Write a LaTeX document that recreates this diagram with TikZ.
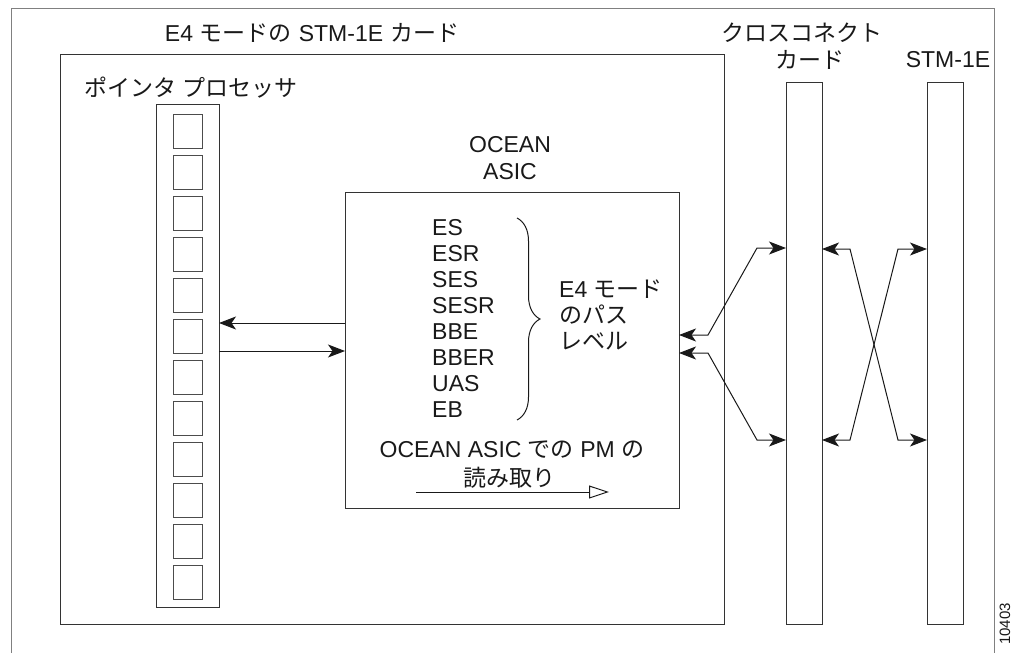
\documentclass[tikz,border=0pt]{standalone}
\usepackage{fontspec}
\setmainfont{Liberation Sans}
\newfontfamily\jp{Noto Sans CJK JP}
\usetikzlibrary{arrows.meta,decorations.pathreplacing}

\begin{document}
\begin{tikzpicture}[x=1pt, y=-1pt,
      >={Stealth[length=17pt,width=13pt,inset=4.5pt]},   % filled tips
      font=\fontsize{23}{26}\selectfont,
      frame/.style={draw=black!50, line width=1pt},
      card/.style={draw=black!80, line width=1pt, inner sep=0pt, outer sep=0pt},
      slot/.style={draw=black!70, line width=1pt, minimum width=29pt, minimum height=34pt, inner sep=0pt, outer sep=0pt},
      lbl/.style={inner sep=0pt, text=black!90},
      link/.style={line width=1pt, draw=black!90}]
      \useasboundingbox (0,0) rectangle (1017,653);
      % outer frame
      \draw[frame] (11,653) -- (11,8) -- (994,8) -- (994,653);
      % cards and columns
      \node[card, minimum width=664pt, minimum height=570pt] (stmcard) at (392,339) {};
      \node[card, minimum width=63pt, minimum height=503pt] (ptr) at (187.5,355.5) {};
      \foreach \i in {0,...,11} \node[slot] (s\i) at (187.5,131+41*\i) {};
      \node[card, minimum width=334pt, minimum height=316pt] (asic) at (512,350) {};
      \node[card, minimum width=36pt, minimum height=542pt] (xc) at (804,353) {};
      \node[card, minimum width=36pt, minimum height=542pt] (stm) at (945,353) {};
      % labels
      \node[lbl] (ttl) at (312,33) {E4\hspace{0.3em}{\jp モードの}\hspace{0.3em}STM-1E\hspace{0.3em}{\jp カード}};
      \node[lbl] (xcla) at (802,33) {\jp クロスコネクト};
      \node[lbl] (xclb) at (810,60) {\jp カード};
      \node[lbl] (stml) at (948,60) {STM-1E};
      \node[lbl] (ptrl) at (191,88) {\jp ポインタ プロセッサ};
      \node[lbl] (oca) at (510,145) {OCEAN};
      \node[lbl] (ocb) at (510,172) {ASIC};
      % PM list
      \foreach \m [count=\i from 0] in {ES,ESR,SES,SESR,BBE,BBER,UAS,EB}
        \node[lbl, anchor=west] (m\i) at (432,228+26*\i) {\m};
      \draw[link, decorate, decoration={brace, amplitude=23pt}] (517,218) -- (517,420);
      \node[lbl, anchor=west] (pla) at (559,289) {E4 {\jp モード}};
      \node[lbl, anchor=west] (plb) at (559,315) {\jp のパス};
      \node[lbl, anchor=west] (plc) at (559,341) {\jp レベル};
      \node[lbl] (rda) at (512,450) {OCEAN ASIC {\jp での} PM {\jp の}};
      \node[lbl] (rdb) at (509,478) {\jp 読み取り};
      \coordinate (r0) at (416,492);
      \coordinate (r1) at (609,492);
      \draw[link, -{Triangle[open,length=20pt,width=13pt]}] (r0) -- (r1);
      % pointer processor <-> ASIC
      \coordinate (a1) at (280,323);
      \coordinate (a2) at (280,351);
      \draw[link,->] (asic.west |- a1) -- (ptr.east |- a1);
      \draw[link,->] (ptr.east |- a2) -- (asic.west |- a2);
      % ASIC <-> cross connect
      \coordinate (f1) at (708,335);
      \coordinate (f2) at (708,353);
      \coordinate (b1) at (757,248);
      \coordinate (b2) at (757,440);
      \draw[link,<->] (asic.east |- f1) -- (f1) -- (b1) -- (xc.west |- b1);
      \draw[link,<->] (asic.east |- f2) -- (f2) -- (b2) -- (xc.west |- b2);
      % cross connect <-> STM-1E
      \coordinate (c1) at (850,249);
      \coordinate (c2) at (898,440);
      \coordinate (c3) at (850,440);
      \coordinate (c4) at (898,249);
      \draw[link,<->] (xc.east |- c1) -- (c1) -- (c2) -- (stm.west |- c2);
      \draw[link,<->] (xc.east |- c3) -- (c3) -- (c4) -- (stm.west |- c4);
      % figure number
      \node[lbl, rotate=90, font=\fontsize{15}{17}\selectfont] (fig) at (1005,624) {10403};
\end{tikzpicture}
\end{document}
